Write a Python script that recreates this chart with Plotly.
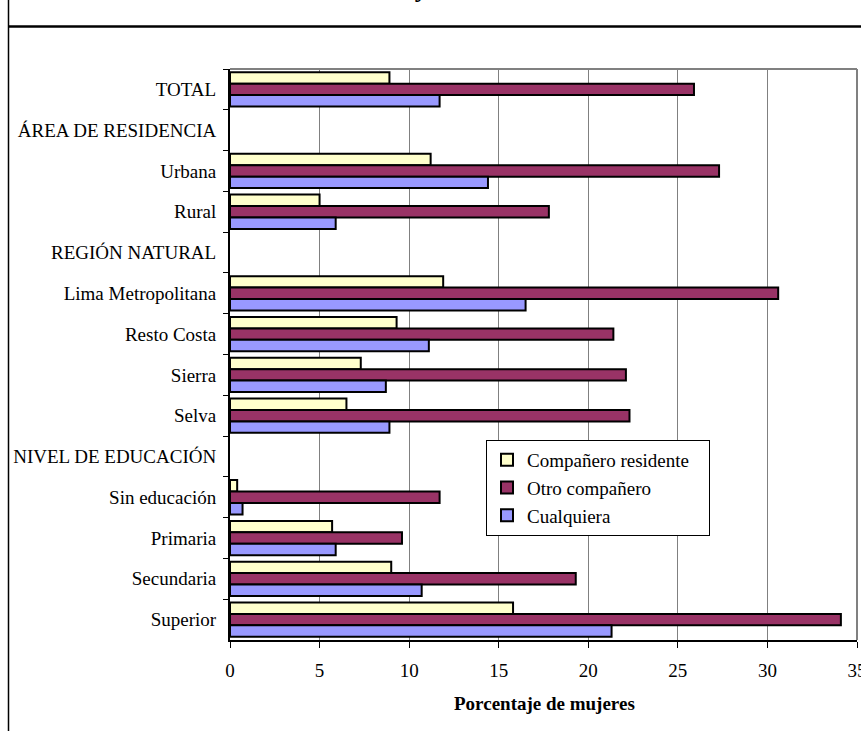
import plotly.graph_objects as go

categorias = ["TOTAL", "ÁREA DE RESIDENCIA", "Urbana", "Rural", "REGIÓN NATURAL",
              "Lima Metropolitana", "Resto Costa", "Sierra", "Selva",
              "NIVEL DE EDUCACIÓN", "Sin educación", "Primaria", "Secundaria", "Superior"]
residente = [8.9, None, 11.2, 5.0, None, 11.9, 9.3, 7.3, 6.5, None, 0.4, 5.7, 9.0, 15.8]
otro = [25.9, None, 27.3, 17.8, None, 30.6, 21.4, 22.1, 22.3, None, 11.7, 9.6, 19.3, 34.1]
cualquiera = [11.7, None, 14.4, 5.9, None, 16.5, 11.1, 8.7, 8.9, None, 0.7, 5.9, 10.7, 21.3]
series_names = ["Compañero residente", "Otro compañero", "Cualquiera"]
x_ticks = [0, 5, 10, 15, 20, 25, 30, 35]

FONT = "Liberation Serif, Times New Roman, serif"
colors = ["#FFFFCC", "#993366", "#9999FF"]

fig = go.Figure()
for i, (name, vals, col) in enumerate(zip(series_names, [residente, otro, cualquiera], colors)):
    fig.add_trace(go.Bar(
        y=categorias, x=vals, name=name + ("\u00a0\u00a0\u00a0" if i == 0 else ""),
        orientation="h",
        marker=dict(color=col, line=dict(color="black", width=2)),
        legendgroup=name,
    ))

W0, W1, H0, H1 = 230, 857, 69, 640
PW, PH = W1 - W0, H1 - H0
def px(x): return (x - W0) / PW
def py(y): return (H1 - y) / PH

fig.update_layout(
    width=861, height=731,
    margin=dict(l=W0, r=861 - W1, t=H0, b=731 - H1, autoexpand=False),
    paper_bgcolor="white", plot_bgcolor="white",
    barmode="group", bargap=0.16, bargroupgap=0,
    font=dict(family=FONT, size=19, color="black"),
    showlegend=True,
    legend=dict(
        x=px(486), y=py(440), xanchor="left", yanchor="top",
        bgcolor="white", bordercolor="black", borderwidth=1,
        font=dict(family=FONT, size=19, color="black"),
        traceorder="normal", tracegroupgap=9,
    ),
    xaxis=dict(
        range=[0, 35], tickvals=x_ticks, ticktext=[str(t) for t in x_ticks],
        showgrid=True, gridcolor="#808080", gridwidth=1,
        showline=True, linecolor="black", linewidth=2,
        ticks="outside", ticklen=6, tickcolor="black", tickwidth=1,
        zeroline=False, ticklabelstandoff=6, ticklabeloverflow="allow",
        tickfont=dict(family=FONT, size=19),
    ),
    yaxis=dict(
        type="category", categoryorder="array", categoryarray=categorias,
        range=[len(categorias) - 0.5, -0.5],
        showline=True, linecolor="black", linewidth=2,
        ticks="outside", ticklen=5, tickcolor="black", tickwidth=1,
        tickson="boundaries", showgrid=False, zeroline=False,
        ticklabelstandoff=8,
        tickfont=dict(family=FONT, size=19),
    ),
    shapes=[
        dict(type="line", xref="paper", yref="paper", x0=0, x1=1, y0=1, y1=1,
             line=dict(color="#808080", width=2)),
        dict(type="line", xref="paper", yref="paper", x0=1, x1=1, y0=0, y1=1,
             line=dict(color="#808080", width=2)),
        dict(type="line", xref="paper", yref="paper", x0=px(8.5), x1=px(861), y0=py(26.5), y1=py(26.5),
             line=dict(color="black", width=2.5)),
        dict(type="line", xref="paper", yref="paper", x0=px(8.5), x1=px(8.5), y0=py(731), y1=py(0),
             line=dict(color="black", width=1.5)),
    ],
    annotations=[
        dict(text="<b>Porcentaje de mujeres</b>", xref="paper", yref="paper",
             x=px(544), y=py(703), xanchor="center", yanchor="middle", showarrow=False,
             font=dict(family=FONT, size=19, color="black")),
        dict(text="<b>residencia y nivel educativo</b>", xref="paper", yref="paper",
             x=px(448), y=py(5), xanchor="center", yanchor="bottom", showarrow=False,
             font=dict(family=FONT, size=26, color="black")),
    ],
)

fig.write_html("out.html", config={"displayModeBar": False},
               post_script="document.body.style.margin='0px';")
